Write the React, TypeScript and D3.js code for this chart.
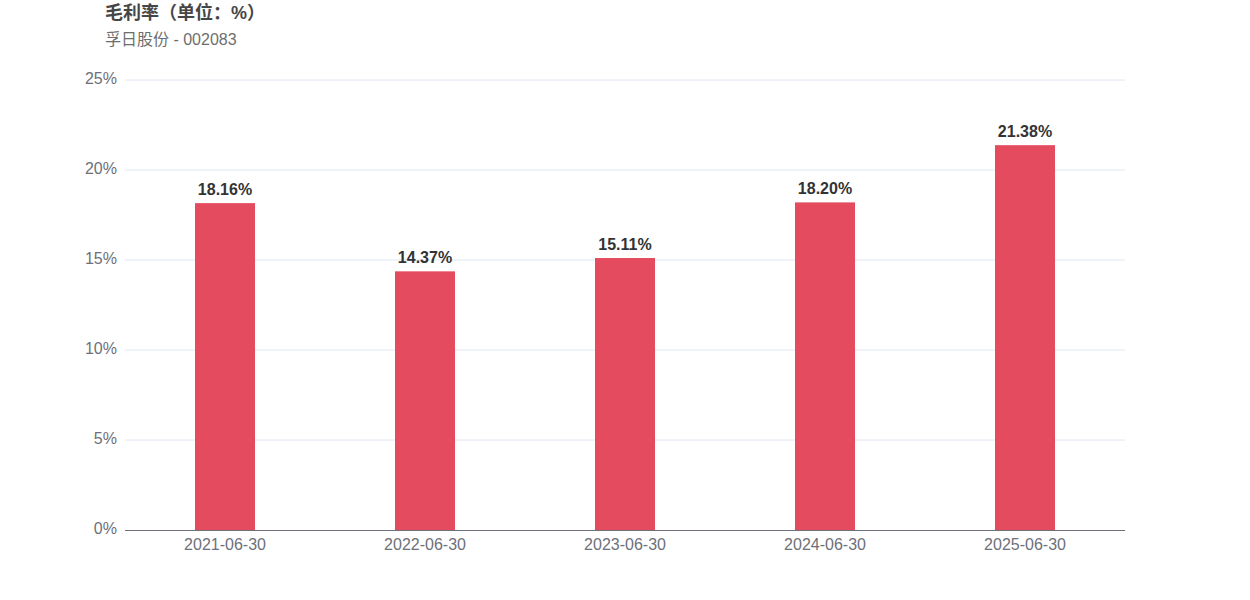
import React from "react";
import * as d3 from "d3";

const categories = ["2021-06-30", "2022-06-30", "2023-06-30", "2024-06-30", "2025-06-30"];
const values = [18.16, 14.37, 15.11, 18.2, 21.38];
const yTicks = [0, 5, 10, 15, 20, 25];

const W = 1250, H = 600;
const left = 125, right = 1125, top = 80, bottom = 530;
const FONT = "'Liberation Sans', Arial, 'Noto Sans CJK SC', sans-serif";

export default function App() {
  const x = d3.scaleBand<string>().domain(categories).range([left, right]).padding(0);
  const y = d3.scaleLinear().domain([0, 25]).range([bottom, top]);
  const bw = 60;
  return (
    <svg width={W} height={H} style={{ position: "absolute", left: 0, top: 0 }} fontFamily={FONT}>
      <rect width={W} height={H} fill="#fff" />
      <text x={105} y={19} fontSize={18} fontWeight="bold" fill="#464646">毛利率（单位：%）</text>
      <text x={105} y={45} fontSize={16} fill="#6e6e6e">孚日股份 - 002083</text>
      {yTicks.map((t) => (
        <g key={t}>
          {t !== 0 && <line x1={left} x2={right} y1={y(t)} y2={y(t)} stroke="#e0e6f1" strokeWidth={1} />}
          <text x={117} y={y(t) - 1.5} dy="0.35em" textAnchor="end" fontSize={16} fill="#6e7079">{t}%</text>
        </g>
      ))}
      {categories.map((c, i) => {
        const cx = x(c)! + x.bandwidth() / 2;
        return (
          <g key={c}>
            <rect x={cx - bw / 2} y={y(values[i])} width={bw} height={bottom - y(values[i])} fill="#e54b5e" />
            <text x={cx} y={y(values[i]) - 8} textAnchor="middle" fontSize={16} fontWeight="bold" fill="#333">
              {values[i].toFixed(2)}%
            </text>
            <text x={cx} y={550} textAnchor="middle" fontSize={16} fill="#6e7079">{c}</text>
          </g>
        );
      })}
      <line x1={left} x2={right} y1={bottom + 0.5} y2={bottom + 0.5} stroke="#6e7079" strokeWidth={1} />
    </svg>
  );
}
